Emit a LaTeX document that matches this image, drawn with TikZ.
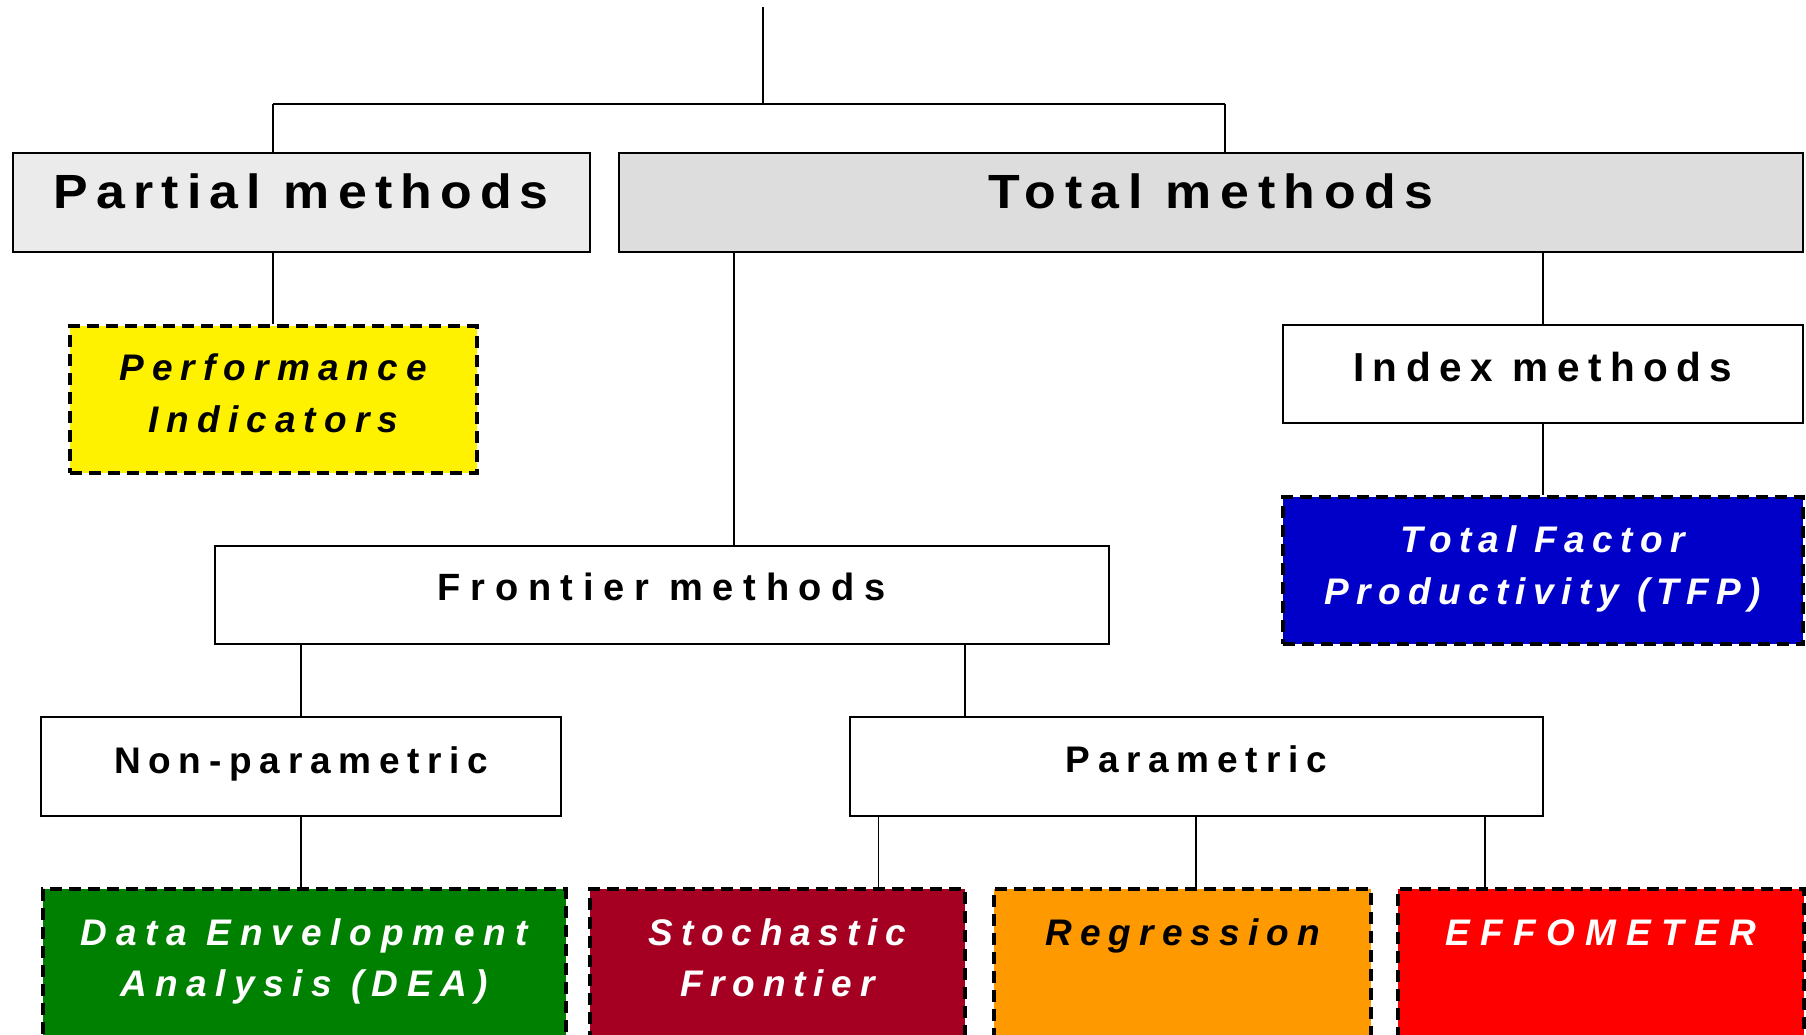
\documentclass[tikz,border=0pt]{standalone}
\usepackage{fontspec}
\setmainfont{Liberation Sans}
\newfontfamily\lsfont{Liberation Sans}[LetterSpace=22]
\newfontfamily\wideFont{Liberation Sans}[FakeStretch=1.08]
\definecolor{partialgray}{HTML}{EBEBEB}
\definecolor{totalgray}{HTML}{DDDDDD}
\definecolor{tfpblue}{HTML}{0000C8}
\definecolor{deagreen}{HTML}{008000}
\definecolor{stochred}{HTML}{A50021}
\definecolor{regorange}{HTML}{FF9900}
\definecolor{effored}{HTML}{FF0000}
\begin{document}
\begin{tikzpicture}[x=1pt,y=-1pt,
  box/.style={draw=black, line width=2pt, inner sep=0pt},
  dbox/.style={draw=black, line width=4pt, dash pattern=on 12pt off 7pt, inner sep=0pt},
  link/.style={draw=black, line width=1.9pt},
  lbl/.style={anchor=base, inner sep=0pt},
  bigtxt/.style={lbl, font=\wideFont\fontsize{48}{56}\selectfont\bfseries\addfontfeatures{LetterSpace=#1}},
  bigtxt/.default=17,
  midtxt/.style={lbl, font=\lsfont\fontsize{37}{45}\selectfont\bfseries\addfontfeatures{LetterSpace=#1}},
  midtxt/.default=22,
  ittxt/.style={lbl, font=\lsfont\fontsize{37}{45}\selectfont\bfseries\itshape\addfontfeatures{LetterSpace=#1}},
  ittxt/.default=22]
\clip (0,0) rectangle (1806,1035);
% boxes
\node[box, fill=partialgray, minimum width=577.4pt, minimum height=98pt] (partial) at (301.3,202.5) {};
\node[box, fill=totalgray, minimum width=1184pt, minimum height=98pt] (total) at (1211,202.5) {};
\node[dbox, fill=yellow, minimum width=406.5pt, minimum height=147pt] (perf) at (273.25,399.5) {};
\node[box, fill=white, minimum width=520.5pt, minimum height=98pt] (index) at (1542.75,374) {};
\node[dbox, fill=tfpblue, minimum width=520.5pt, minimum height=147pt] (tfp) at (1542.75,570.5) {};
\node[box, fill=white, minimum width=894.3pt, minimum height=98.5pt] (frontier) at (661.85,594.75) {};
\node[box, fill=white, minimum width=520.1pt, minimum height=98.7pt] (nonpar) at (301.35,766.35) {};
\node[box, fill=white, minimum width=693.4pt, minimum height=98.7pt] (par) at (1196.3,766.35) {};
\node[dbox, fill=deagreen, minimum width=522.5pt, minimum height=171pt] (dea) at (304.25,974.5) {};
\node[dbox, fill=stochred, minimum width=375.7pt, minimum height=171pt] (stoch) at (777.45,974.5) {};
\node[dbox, fill=regorange, minimum width=376.8pt, minimum height=171pt] (regr) at (1182.6,974.5) {};
\node[dbox, fill=effored, minimum width=406pt, minimum height=171pt] (effo) at (1601,974.5) {};
% connectors
\coordinate (root) at (763,7);
\coordinate (barL) at (273,104);
\coordinate (barR) at (1225,104);
\coordinate (tf) at (734,0);
\coordinate (fp) at (965.3,0);
\coordinate (ps) at (878.5,0);
\coordinate (pe) at (1484.7,0);
\draw[link] (root) -- (root |- barL);
\draw[link] (barL) -- (barR);
\draw[link] (barL) -- (barL |- partial.north);
\draw[link] (barR) -- (barR |- total.north);
\draw[link] (partial.south -| perf.north) -- (perf.north);
\draw[link] (total.south -| tf) -- (frontier.north -| tf);
\draw[link] (total.south -| index.north) -- (index.north);
\draw[link] (index.south) -- (tfp.north);
\draw[link] (frontier.south -| nonpar.north) -- (nonpar.north);
\draw[link] (frontier.south -| fp) -- (par.north -| fp);
\draw[link] (nonpar.south) -- (nonpar.south |- dea.north);
\draw[link] (par.south -| ps) -- (stoch.north -| ps);
\draw[link] (par.south) -- (par.south |- regr.north);
\draw[link] (par.south -| pe) -- (effo.north -| pe);
% texts
\node[bigtxt] (tpartial) at (301.3,208.5) {Partial methods};
\node[bigtxt=18] (ttotal) at (1211,208.5) {Total methods};
\node[ittxt] (tperf1) at (273.25,380) {Performance};
\node[ittxt] (tperf2) at (273.25,432) {Indicators};
\node[lbl, font=\lsfont\fontsize{40.5}{48}\selectfont\bfseries\addfontfeatures{LetterSpace=21}] (tindex) at (1542.75,381) {Index methods};
\node[ittxt=20, text=white] (ttfp1) at (1542.75,552.7) {Total Factor};
\node[ittxt=20, text=white] (ttfp2) at (1542.75,604) {Productivity (TFP)};
\node[lbl, font=\lsfont\fontsize{38}{46}\selectfont\bfseries\addfontfeatures{LetterSpace=25.5}] (tfrontier) at (661.85,600.7) {Frontier methods};
\node[midtxt=21] (tnonpar) at (301.35,773) {Non-parametric};
\node[midtxt=21] (tpar) at (1196.3,772) {Parametric};
\node[ittxt=24, text=white] (tdea1) at (304.25,945.4) {Data Envelopment};
\node[ittxt=23, text=white] (tdea2) at (304.25,996.6) {Analysis (DEA)};
\node[ittxt=21, text=white] (tstoch1) at (777.45,945.4) {Stochastic};
\node[ittxt=21, text=white] (tstoch2) at (777.45,996.6) {Frontier};
\node[ittxt] (tregr) at (1182.6,945.4) {Regression};
\node[ittxt=28, text=white] (teffo) at (1601,945.4) {EFFOMETER};
\end{tikzpicture}
\end{document}
